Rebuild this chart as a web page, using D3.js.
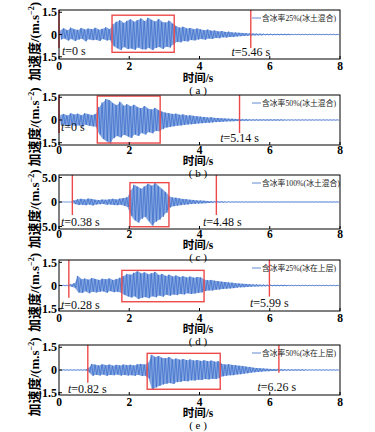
<!DOCTYPE html>
<html>
<head>
<meta charset="utf-8">
<script src="https://cdn.jsdelivr.net/npm/d3@7"></script>
<style>
body { margin: 0; background: #fff; }
svg { display: block; }
</style>
</head>
<body>
<svg id="chart" width="375" height="432"></svg>
<script>
// ---- data ----
const timeTicks = [0, 2, 4, 6, 8];
const binStep = 0.1; // waveform stored as max/min per 0.1 s bin
const panelLetters = ["a", "b", "c", "d", "e"];
const legendLabels = ["含冰率25%(冰土混合)", "含冰率50%(冰土混合)", "含冰率100%(冰土混合)", "含冰率25%(冰在上层)", "含冰率50%(冰在上层)"];
const yTicks = [[-1.5, 0, 1.5], [-1.5, 0, 1.5], [-5, 0, 5], [-1.5, 0, 1.5], [-1.5, 0, 1.5]];
const yMax = [1.65, 1.65, 5.5, 1.65, 1.65];
const startTimes = [0, 0, 0.38, 0.28, 0.82];
const endTimes = [5.46, 5.14, 4.48, 5.99, 6.26];
const markerLow = [[-0.91, -0.91], [-0.86, -0.86], [-2.65, -2.65], [-0.79, -0.72], [-0.84, -0.18]];
const boxTime = [[1.51, 3.28], [1.09, 2.88], [2.02, 3.13], [1.79, 4.13], [2.51, 4.59]];
const boxAcc = [[-1.2, 1.3], [-1.52, 1.58], [-5.04, 3.94], [-1.05, 0.98], [-1.27, 1.1]];

const aHi = [0.30,0.42,0.28,0.46,0.35,0.31,0.44,0.33,0.40,0.36, 0.45,0.32,0.38,0.48,0.36,0.70,0.86,0.96,0.78,0.92,
  1.02,0.86,0.97,1.08,0.90,1.12,0.98,0.88,1.04,0.84, 0.80,0.93,0.72,0.55,0.46,0.52,0.40,0.44,0.35,0.41,
  0.34,0.29,0.33,0.25,0.27,0.21,0.23,0.17,0.19,0.14, 0.13,0.11,0.10,0.08,0.07,0.06,0.05,0.05,0.04,0.04,
  0.04,0.03,0.03,0.03,0.03,0.03,0.02,0.02,0.02,0.02, 0.02,0.02,0.02,0.02,0.02,0.02,0.02,0.02,0.02,0.02];
const aLo = [-0.33,-0.27,-0.41,-0.30,-0.43,-0.34,-0.29,-0.46,-0.32,-0.38, -0.35,-0.43,-0.31,-0.40,-0.37,-0.78,-0.92,-1.05,-0.84,-0.98,
  -0.94,-1.03,-0.87,-0.99,-1.01,-0.89,-1.05,-0.91,-0.84,-0.97, -0.82,-0.88,-0.68,-0.50,-0.53,-0.44,-0.47,-0.37,-0.40,-0.34,
  -0.31,-0.35,-0.27,-0.30,-0.23,-0.25,-0.19,-0.21,-0.16,-0.16, -0.13,-0.11,-0.10,-0.09,-0.07,-0.06,-0.05,-0.05,-0.04,-0.04,
  -0.04,-0.03,-0.03,-0.03,-0.03,-0.03,-0.02,-0.02,-0.02,-0.02, -0.02,-0.02,-0.02,-0.02,-0.02,-0.02,-0.02,-0.02,-0.02,-0.02];

const bHi = [0.34,0.40,0.30,0.44,0.36,0.42,0.31,0.45,0.38,0.33, 0.40,0.85,1.15,1.38,1.30,1.10,0.98,1.20,0.94,1.04,
  0.90,1.00,0.84,0.78,0.92,0.74,0.70,0.80,0.64,0.55, 0.48,0.44,0.40,0.42,0.34,0.37,0.30,0.31,0.27,0.24,
  0.22,0.20,0.17,0.18,0.14,0.13,0.11,0.10,0.09,0.08, 0.07,0.06,0.05,0.05,0.04,0.04,0.04,0.03,0.03,0.03,
  0.03,0.03,0.03,0.03,0.02,0.02,0.02,0.02,0.02,0.02, 0.02,0.02,0.02,0.02,0.02,0.02,0.02,0.02,0.02,0.02];
const bLo = [-0.36,-0.30,-0.43,-0.33,-0.40,-0.35,-0.44,-0.31,-0.38,-0.42, -0.45,-0.95,-1.25,-1.40,-1.55,-1.20,-1.05,-1.15,-0.98,-1.08,
  -1.18,-0.95,-1.05,-0.85,-0.96,-0.80,-0.88,-0.72,-0.75,-0.60, -0.50,-0.46,-0.42,-0.38,-0.36,-0.33,-0.30,-0.28,-0.26,-0.23,
  -0.21,-0.19,-0.18,-0.16,-0.14,-0.13,-0.11,-0.10,-0.09,-0.08, -0.07,-0.06,-0.05,-0.05,-0.04,-0.04,-0.04,-0.03,-0.03,-0.03,
  -0.03,-0.03,-0.03,-0.03,-0.02,-0.02,-0.02,-0.02,-0.02,-0.02, -0.02,-0.02,-0.02,-0.02,-0.02,-0.02,-0.02,-0.02,-0.02,-0.02];

const cHi = [0.02,0.02,0.02,0.02,0.35,0.55,0.65,0.50,0.70,0.60, 0.45,0.40,0.50,0.45,0.55,0.65,0.50,0.70,0.80,0.95,
  2.40,3.50,3.10,2.70,3.20,3.70,3.30,3.85,3.20,2.60, 2.00,1.10,0.90,0.85,0.70,0.60,0.55,0.45,0.40,0.32,
  0.30,0.25,0.20,0.16,0.12,0.10,0.08,0.07,0.06,0.05, 0.05,0.04,0.04,0.04,0.03,0.03,0.03,0.03,0.03,0.03,
  0.03,0.03,0.03,0.03,0.03,0.03,0.03,0.03,0.03,0.03, 0.03,0.03,0.03,0.03,0.03,0.03,0.03,0.03,0.03,0.03];
const cLo = [-0.02,-0.02,-0.02,-0.02,-0.40,-0.60,-0.55,-0.65,-0.50,-0.70, -0.50,-0.45,-0.40,-0.55,-0.50,-0.60,-0.65,-0.55,-0.75,-1.00,
  -2.80,-3.70,-4.20,-3.40,-3.00,-3.90,-4.80,-4.00,-3.60,-3.00, -2.20,-1.10,-0.85,-0.75,-0.65,-0.55,-0.50,-0.42,-0.38,-0.33,
  -0.28,-0.25,-0.20,-0.15,-0.12,-0.10,-0.08,-0.07,-0.06,-0.05, -0.05,-0.04,-0.04,-0.04,-0.03,-0.03,-0.03,-0.03,-0.03,-0.03,
  -0.03,-0.03,-0.03,-0.03,-0.03,-0.03,-0.03,-0.03,-0.03,-0.03, -0.03,-0.03,-0.03,-0.03,-0.03,-0.03,-0.03,-0.03,-0.03,-0.03];

const dHi = [0.02,0.02,0.02,0.08,0.15,0.62,0.40,0.45,0.38,0.48, 0.42,0.36,0.44,0.40,0.46,0.35,0.42,0.50,0.62,0.75,
  0.70,0.82,0.92,0.78,0.85,0.72,0.80,0.88,0.68,0.75, 0.62,0.70,0.58,0.65,0.55,0.60,0.52,0.58,0.50,0.55,
  0.52,0.38,0.34,0.36,0.30,0.28,0.25,0.22,0.20,0.18, 0.15,0.13,0.11,0.10,0.08,0.07,0.06,0.05,0.05,0.04,
  0.03,0.03,0.03,0.03,0.03,0.02,0.02,0.02,0.02,0.02, 0.02,0.02,0.02,0.02,0.02,0.02,0.02,0.02,0.02,0.02];
const dLo = [-0.02,-0.02,-0.02,-0.08,-0.15,-0.45,-0.48,-0.38,-0.50,-0.40, -0.45,-0.40,-0.38,-0.47,-0.36,-0.43,-0.40,-0.45,-0.60,-0.70,
  -0.78,-0.70,-0.88,-0.80,-0.75,-0.82,-0.70,-0.76,-0.65,-0.72, -0.60,-0.66,-0.58,-0.62,-0.55,-0.58,-0.50,-0.55,-0.52,-0.48,
  -0.45,-0.36,-0.32,-0.33,-0.28,-0.26,-0.23,-0.21,-0.19,-0.17, -0.14,-0.12,-0.11,-0.09,-0.08,-0.07,-0.06,-0.05,-0.05,-0.04,
  -0.03,-0.03,-0.03,-0.03,-0.03,-0.02,-0.02,-0.02,-0.02,-0.02, -0.02,-0.02,-0.02,-0.02,-0.02,-0.02,-0.02,-0.02,-0.02,-0.02];

const eHi = [0.02,0.02,0.02,0.02,0.02,0.02,0.02,0.02,0.15,0.40, 0.35,0.30,0.38,0.32,0.36,0.28,0.34,0.30,0.36,0.32,
  0.35,0.30,0.38,0.40,0.36,0.50,1.00,0.85,0.92,0.80, 0.78,0.85,0.70,0.76,0.68,0.72,0.65,0.70,0.62,0.66,
  0.60,0.64,0.58,0.62,0.55,0.58,0.40,0.36,0.38,0.33, 0.32,0.28,0.26,0.22,0.20,0.15,0.13,0.11,0.10,0.08,
  0.07,0.06,0.05,0.05,0.04,0.04,0.03,0.03,0.03,0.03, 0.02,0.02,0.02,0.02,0.02,0.02,0.02,0.02,0.02,0.02];
const eLo = [-0.02,-0.02,-0.02,-0.02,-0.02,-0.02,-0.02,-0.02,-0.15,-0.38, -0.32,-0.36,-0.30,-0.38,-0.33,-0.35,-0.30,-0.37,-0.33,-0.36,
  -0.34,-0.38,-0.32,-0.40,-0.38,-0.55,-1.30,-1.15,-1.05,-0.95, -0.90,-0.85,-0.92,-0.80,-0.78,-0.72,-0.75,-0.68,-0.70,-0.64,
  -0.66,-0.60,-0.62,-0.58,-0.60,-0.55,-0.42,-0.38,-0.35,-0.34, -0.30,-0.28,-0.24,-0.22,-0.18,-0.15,-0.13,-0.11,-0.09,-0.08,
  -0.07,-0.06,-0.05,-0.05,-0.04,-0.04,-0.03,-0.03,-0.03,-0.03, -0.02,-0.02,-0.02,-0.02,-0.02,-0.02,-0.02,-0.02,-0.02,-0.02];

const waveHi = [aHi, bHi, cHi, dHi, eHi];
const waveLo = [aLo, bLo, cLo, dLo, eLo];

// ---- layout (pixels) ----
const left = 59, right = 340;
const layout = [
  {top: 10,  bottom: 59,  tickY: 70,  xLabY: 82,  capY: 94,  startX: 62, startY: 55,  endY: 56,  endDx: 0},
  {top: 95,  bottom: 145, tickY: 154, xLabY: 165, capY: 177, startX: 61, startY: 131, endY: 142, endDx: 0},
  {top: 175, bottom: 229, tickY: 238, xLabY: 249, capY: 261, startX: 61, startY: 226, endY: 226, endDx: 6},
  {top: 260, bottom: 311, tickY: 322, xLabY: 333, capY: 345, startX: 61, startY: 309, endY: 307, endDx: 0},
  {top: 345, bottom: 395, tickY: 406, xLabY: 417, capY: 429, startX: 68, startY: 393, endY: 391, endDx: -2}
];

const serif = "'Times New Roman', 'Liberation Serif', 'Noto Sans CJK SC', serif";
const cjk = "'Liberation Serif', 'Noto Sans CJK SC', serif";
const blue = "#3a6cc8";
const red = "#ec4a4a";

const svg = d3.select("#chart");
svg.append("rect").attr("width", 375).attr("height", 432).attr("fill", "#fff");

const x = d3.scaleLinear().domain([0, 8]).range([left, right]);
const fmt = v => v === 0 ? "0" : d3.format(".1f")(v);

layout.forEach((L, p) => {
  const y = d3.scaleLinear().domain([-yMax[p], yMax[p]]).range([L.bottom, L.top]);
  const g = svg.append("g");

  const clipId = "clip" + p;
  g.append("clipPath").attr("id", clipId)
    .append("rect").attr("x", left).attr("y", L.top)
    .attr("width", right - left).attr("height", L.bottom - L.top);

  // waveform: band between per-bin max and min, plus a max/min trace
  const bins = waveHi[p].map((h, i) => ({t: i * binStep + binStep / 2, hi: h, lo: waveLo[p][i]}));
  g.append("path")
    .attr("clip-path", `url(#${clipId})`)
    .attr("fill", "#4f7fd4").attr("fill-opacity", 0.7)
    .attr("d", d3.area().x(d => x(d.t)).y0(d => y(d.lo)).y1(d => y(d.hi))(bins));
  const pts = [];
  bins.forEach(b => {
    pts.push([b.t - 0.025, b.hi]);
    pts.push([b.t + 0.025, b.lo]);
  });
  g.append("path")
    .attr("clip-path", `url(#${clipId})`)
    .attr("fill", "none")
    .attr("stroke", blue)
    .attr("stroke-width", 0.7)
    .attr("d", d3.line().x(d => x(d[0])).y(d => y(d[1]))(pts));

  // red markers
  [startTimes[p], endTimes[p]].forEach((t, k) => {
    g.append("line")
      .attr("x1", x(t)).attr("x2", x(t))
      .attr("y1", L.top).attr("y2", y(markerLow[p][k]))
      .attr("stroke", red).attr("stroke-width", 1.4);
  });
  g.append("rect")
    .attr("x", x(boxTime[p][0])).attr("y", y(boxAcc[p][1]))
    .attr("width", x(boxTime[p][1]) - x(boxTime[p][0]))
    .attr("height", y(boxAcc[p][0]) - y(boxAcc[p][1]))
    .attr("fill", "none").attr("stroke", red).attr("stroke-width", 1.4);

  // t labels
  const tLabel = (xx, yy, t, anchor) => {
    const tx = g.append("text").attr("x", xx).attr("y", yy)
      .attr("text-anchor", anchor)
      .attr("font-family", serif).attr("font-size", 12).attr("fill", "#111");
    tx.append("tspan").attr("font-style", "italic").text("t");
    tx.append("tspan").text("=" + (t === 0 ? "0" : d3.format(".2f")(t)) + " s");
  };
  tLabel(L.startX, L.startY, startTimes[p], "start");
  tLabel(x(endTimes[p]) + L.endDx, L.endY, endTimes[p], "middle");

  // legend
  const ly = L.top + 8;
  g.append("line").attr("x1", right - 88).attr("x2", right - 79)
    .attr("y1", ly).attr("y2", ly).attr("stroke", blue).attr("stroke-width", 0.8);
  g.append("text").attr("x", right - 78).attr("y", ly).attr("dy", "0.35em")
    .attr("font-family", cjk).attr("font-size", 7.8).attr("fill", "#222")
    .text(legendLabels[p]);

  // frame
  g.append("rect").attr("x", left).attr("y", L.top)
    .attr("width", right - left).attr("height", L.bottom - L.top)
    .attr("fill", "none").attr("stroke", "#000").attr("stroke-width", 1);

  // x ticks (inward)
  timeTicks.forEach(t => {
    g.append("line").attr("x1", x(t)).attr("x2", x(t))
      .attr("y1", L.bottom).attr("y2", L.bottom - 3).attr("stroke", "#000");
    g.append("text").attr("x", x(t)).attr("y", L.tickY)
      .attr("text-anchor", "middle").attr("font-family", serif)
      .attr("font-size", 11.5).attr("font-weight", "bold").text(t);
  });
  // y ticks (inward)
  yTicks[p].forEach(v => {
    g.append("line").attr("x1", left).attr("x2", left + 3)
      .attr("y1", y(v)).attr("y2", y(v)).attr("stroke", "#000");
    g.append("text").attr("x", left - 2).attr("y", y(v)).attr("dy", "0.35em")
      .attr("text-anchor", "end").attr("font-family", serif)
      .attr("font-size", 12).attr("font-weight", "bold").text(fmt(v));
  });

  // axis titles
  g.append("text").attr("x", 198).attr("y", L.xLabY).attr("text-anchor", "middle")
    .attr("font-family", cjk).attr("font-size", 11.5).attr("font-weight", "bold").text("时间/s");
  g.append("text").attr("x", 198).attr("y", L.capY).attr("text-anchor", "middle")
    .attr("font-family", cjk).attr("font-size", 11).text("( " + panelLetters[p] + " )");

  const mid = (L.top + L.bottom) / 2 + 7;
  const yl = g.append("text")
    .attr("transform", `translate(39,${mid}) rotate(-90)`)
    .attr("text-anchor", "middle")
    .attr("font-family", cjk).attr("font-size", 13).attr("font-weight", "bold");
  yl.append("tspan").text("加速度/(m.s");
  yl.append("tspan").attr("font-size", 8).attr("dy", -5).text("−2");
  yl.append("tspan").attr("dy", 5).text(")");
});
</script>
</body>
</html>
